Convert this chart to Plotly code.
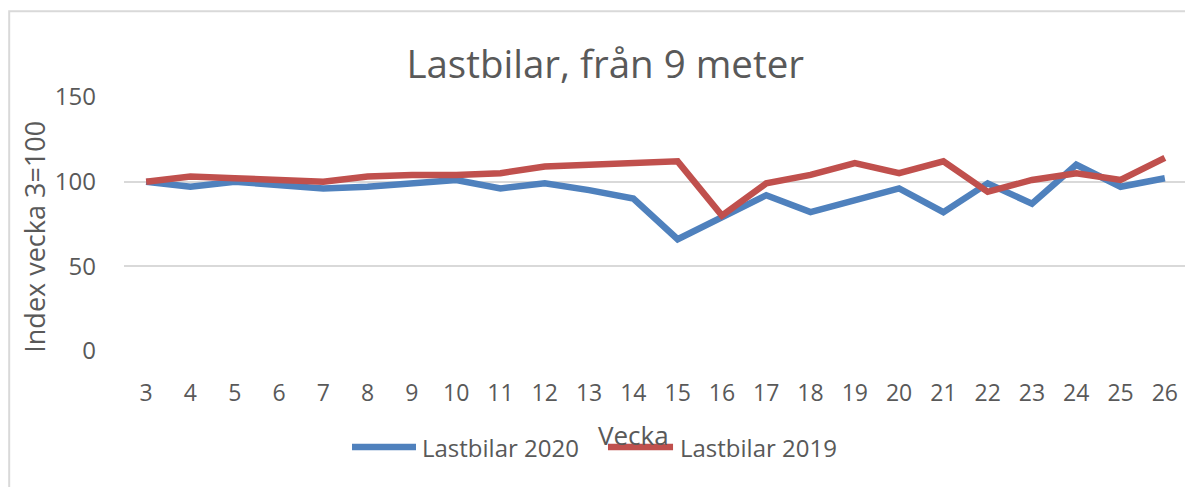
import plotly.graph_objects as go

weeks = [str(w) for w in range(3, 27)]
lastbilar_2020 = [100, 97, 100, 98, 96, 97, 99, 101, 96, 99, 95, 90, 66, 79, 92, 82, 89, 96, 82, 99, 87, 110, 97, 102]
lastbilar_2019 = [100, 103, 102, 101, 100, 103, 104, 104, 105, 109, 110, 111, 112, 80, 99, 104, 111, 105, 112, 94, 101, 105, 101, 114]

grey = "#595959"
font = "Open Sans"
series = [("Lastbilar 2020", lastbilar_2020, "#4F81BD"),
          ("Lastbilar 2019", lastbilar_2019, "#C0504D")]

fig = go.Figure()
for name, vals, color in series:
    fig.add_trace(go.Scatter(x=weeks, y=vals, mode="lines", name=name,
                             line=dict(color=color, width=6.5), showlegend=False))

# hand-made legend, Excel style (long line swatch, text right after)
legend_pos = [(0.2145, 0.2747, 0.2785), (0.4553, 0.5165, 0.5212)]
shapes = [dict(type="rect", xref="paper", yref="paper", x0=-0.108, y0=-0.6, x1=1.2, y1=1.338,
               line=dict(color="#D9D9D9", width=2), layer="below")]
annotations = []
for (name, vals, color), (lx0, lx1, tx) in zip(series, legend_pos):
    shapes.append(dict(type="line", xref="paper", yref="paper", x0=lx0, x1=lx1, y0=-0.378, y1=-0.378,
                       line=dict(color=color, width=6.5)))
    annotations.append(dict(text=name, xref="paper", yref="paper", x=tx, y=-0.378, showarrow=False,
                            xanchor="left", yanchor="middle", font=dict(size=24, color=grey)))

annotations += [
    dict(text="Vecka", xref="paper", yref="paper", x=0.479, y=-0.331, showarrow=False,
         font=dict(size=26, color=grey), xanchor="center", yanchor="middle"),
    dict(text="Index vecka 3=100", xref="paper", yref="paper", x=-0.0837, y=0.45,
         showarrow=False, textangle=-90, font=dict(size=27, color=grey),
         xanchor="center", yanchor="middle"),
]

# page body has an 8px margin, so the figure is a bit smaller than the window
fig.update_layout(
    width=1185, height=479,
    margin=dict(l=116, r=6, t=89, b=136),
    paper_bgcolor="white", plot_bgcolor="white",
    font=dict(family=font, color=grey, size=23),
    title=dict(text="Lastbilar, från 9 meter", x=0.504, xanchor="center", y=0.881, yanchor="middle",
               font=dict(size=38.5, color=grey)),
    showlegend=False,
    shapes=shapes,
    annotations=annotations,
)
fig.update_xaxes(type="category", range=[-0.5, 23.5], showgrid=False, showline=False,
                 ticks="", tickfont=dict(size=23, color=grey), ticklabelstandoff=26)
fig.update_yaxes(range=[0, 150], tickvals=[0, 50, 100, 150], showgrid=True, gridcolor="#D9D9D9",
                 gridwidth=2, zeroline=False, showline=False, ticks="",
                 tickfont=dict(size=24, color=grey), ticklabelstandoff=27)

fig.write_html("out.html")
